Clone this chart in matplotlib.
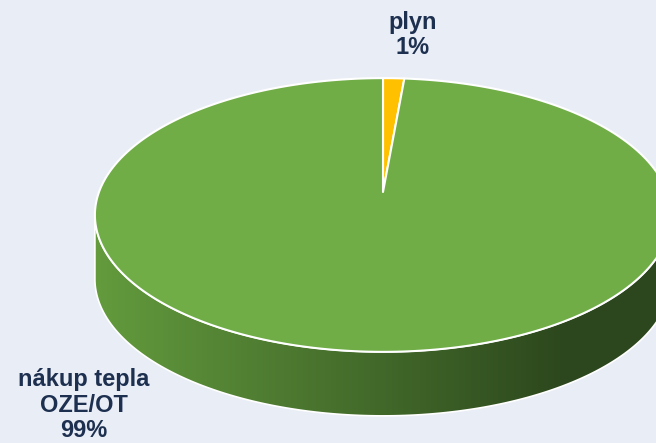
import numpy as np
import matplotlib.pyplot as plt
from matplotlib.patches import Polygon
from matplotlib.colors import to_rgb

labels = ['plyn', 'nákup tepla\nOZE/OT']
values = [1.4, 98.6]
colors = ['#ffc000', '#70ad47']
label_pos = [(413, 35), (84, 405)]

W, H = 656, 443
fig = plt.figure(figsize=(W / 100, H / 100), dpi=100)
fig.patch.set_facecolor('#e9edf5')
ax = fig.add_axes([0, 0, 1, 1])
ax.set_xlim(0, W)
ax.set_ylim(H, 0)
ax.axis('off')

# simple perspective projection of the pie disk
cx, cy = 383, 192
s, t, k = 284, 133, 0.168
depth = 64


def proj(theta):
    # theta clockwise from the top, radians
    X = np.sin(theta)
    Z = np.cos(theta)
    d = 1 + k * Z
    return cx + s * X / d, cy - t * Z / d


# side (front wall) with horizontal gradient
te = np.arccos(-k)
th = np.linspace(te, 2 * np.pi - te, 300)
xs, ys = proj(th)
side_pts = np.concatenate([np.column_stack([xs, ys]),
                           np.column_stack([xs[::-1], ys[::-1] + depth])])
side = Polygon(side_pts, closed=True, facecolor='none', edgecolor='white',
               linewidth=1.2, zorder=2)
ax.add_patch(side)

c1 = np.array(to_rgb('#639b3d'))
c2 = np.array(to_rgb('#2c471d'))
xg = np.arange(W)
f = np.clip((xg - 95) / (565 - 95), 0, 1)[:, None]
grad = (c1 * (1 - f) + c2 * f)[None, :, :]
img = ax.imshow(grad, extent=(0, W, H, 0), aspect='auto', zorder=1)
img.set_clip_path(side)

# top face
total = sum(values)
start = 0.0
for v, c in zip(values, colors):
    a0 = start / total * 2 * np.pi
    a1 = (start + v) / total * 2 * np.pi
    arc = np.linspace(a0, a1, max(int(v * 4), 10))
    ax_, ay_ = proj(arc)
    pts = np.vstack([[cx, cy], np.column_stack([ax_, ay_])])
    ax.add_patch(Polygon(pts, closed=True, facecolor=c, edgecolor='white',
                         linewidth=1.5, joinstyle='round', zorder=3))
    start += v

# labels
for lab, v, (lx, ly) in zip(labels, values, label_pos):
    ax.text(lx, ly, f"{lab}\n{round(v / total * 100)}%", ha='center',
            va='center', fontsize=17, fontweight='bold', color='#1d3050',
            family='Liberation Sans', linespacing=1.12, zorder=5)

fig.savefig('out.png', dpi=100, facecolor=fig.get_facecolor())
